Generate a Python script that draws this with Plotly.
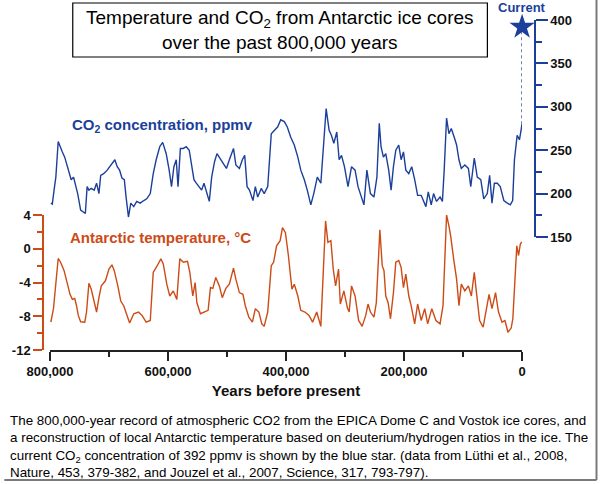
import plotly.graph_objects as go

# ages in thousands of years before present
temp_age_kyr = [798.5, 794, 786, 782, 776, 771, 766, 762, 758, 755, 752, 748, 741, 738, 734, 730, 725, 721,
                717, 713, 706, 700, 695, 691, 685, 680, 675, 670, 665, 658, 650, 644, 637, 630, 625, 619,
                612, 608, 602, 597, 591, 585, 580, 574, 567, 563, 558, 554, 551, 545, 538, 532, 528, 524,
                519, 513, 508, 502, 496, 489, 485, 479, 473, 469, 463, 457, 452, 446, 441, 437, 431, 425,
                421, 416, 410, 406, 401, 396, 390, 386, 380, 375, 368, 361, 355, 348, 341, 336, 333, 329,
                324, 320, 316, 311, 308, 302, 296, 293, 289, 283, 277, 271, 265, 261, 257, 251, 247, 241,
                237, 234, 231, 227, 223, 218, 214, 209, 205, 201, 197, 192, 188, 182, 177, 171, 165, 160,
                153, 146, 139, 134, 128, 124, 121, 116, 111, 107, 103, 97, 91, 86, 81, 77, 72, 66, 61, 56,
                51, 45, 40, 34, 29, 24, 18.5, 15.7, 13, 9, 6, 3, 0.5]
temp_c = [-8.7, -7.1, -1.15, -1.6, -2.6, -4.0, -5.4, -6.0, -5.9, -6.75, -7.9, -8.65, -8.7, -7.5, -4.1, -4.8,
          -6.2, -7.5, -5.8, -4.4, -3.8, -2.4, -1.9, -2.6, -4.4, -6.2, -6.75, -7.9, -8.8, -7.7, -7.5, -7.9,
          -8.7, -8.5, -2.8, -2.1, -1.2, -1.8, -4.2, -5.6, -5.0, -6.0, -1.2, -1.6, -1.5, -2.8, -5.6, -4.0,
          -6.4, -7.7, -7.5, -7.3, -4.6, -4.7, -3.4, -4.4, -5.8, -4.7, -4.2, -2.3, -3.6, -5.2, -5.4, -6.75,
          -8.1, -8.7, -7.1, -7.5, -8.9, -9.2, -7.5, -2.0, -1.6, 0.35, 0.95, 2.5, 1.9, -0.8, -4.8, -4.2,
          -5.6, -7.3, -7.5, -7.9, -8.7, -7.5, -9.2, 0.0, 3.3, 0.75, 0.95, -2.4, -4.4, -2.4, -6.55, -5.0,
          -7.0, -7.5, -4.4, -5.6, -8.5, -9.2, -7.9, -6.55, -7.5, -8.1, -6.4, 2.25, -2.0, -2.6, -5.6, -6.4,
          -8.3, -5.2, -1.6, -1.4, -2.2, -4.6, -3.0, -5.6, -6.75, -8.9, -6.55, -8.5, -7.1, -8.9, -7.1, -8.5,
          -8.9, -6.75, 4.0, 2.7, 1.5, -1.2, -3.6, -6.75, -4.2, -5.0, -4.4, -5.6, -2.8, -5.4, -8.5, -9.3,
          -7.1, -5.4, -7.1, -5.2, -7.5, -8.7, -8.5, -9.9, -9.4, -8.3, -4.8, 0.35, -0.8, 0.55, 0.8]

co2_age_kyr = [798.5, 796, 793, 790, 786, 783, 779, 775, 772, 768, 764, 760, 756, 753, 748, 744, 740, 737,
               734, 730, 725, 721, 717, 714, 709, 703, 698, 695, 690, 686, 682, 678, 674, 671, 667, 663,
               658, 653, 647, 641, 636, 630, 625, 620, 614, 609, 603, 598, 594, 590, 586, 583, 579, 574,
               569, 564, 560, 556, 552, 547, 543, 539, 535, 530, 526, 521, 517, 512, 507, 501, 496, 489,
               485, 479, 474, 470, 466, 462, 456, 452, 448, 442, 437, 431, 425, 420, 414, 409, 403, 398,
               392, 386, 380, 375, 369, 364, 358, 353, 347, 341, 336, 332, 327, 323, 319, 314, 310, 306,
               301, 295, 289, 283, 278, 272, 268, 263, 257, 251, 246, 242, 239, 235, 231, 226, 222, 218,
               214, 209, 205, 201, 197, 192, 187, 182, 177, 171, 167, 163, 159, 154, 150, 145, 139, 135,
               132, 128, 124, 120, 115, 111, 107, 103, 97, 91, 87, 81, 76, 70, 65, 59, 55, 51, 47, 42, 37,
               31, 25, 20, 16, 13, 8.4, 4.5, 1.7, 0.3]
co2_ppmv = [189, 188, 204, 219, 260, 254, 248, 242, 235, 225, 216, 219, 208, 200, 181, 179, 177, 208, 204,
            206, 204, 212, 200, 221, 223, 227, 232, 235, 239, 231, 227, 218, 216, 196, 173, 189, 185, 191,
            189, 192, 194, 200, 223, 239, 254, 259, 246, 227, 208, 231, 239, 208, 252, 252, 254, 250, 235,
            216, 212, 208, 204, 212, 203, 191, 219, 237, 246, 241, 235, 229, 239, 252, 233, 229, 239, 244,
            208, 204, 192, 208, 196, 206, 200, 208, 269, 273, 277, 285, 283, 277, 265, 256, 242, 227, 216,
            204, 187, 200, 219, 212, 254, 298, 273, 267, 258, 271, 239, 244, 231, 208, 231, 227, 208, 194,
            187, 227, 200, 196, 219, 281, 254, 242, 246, 227, 204, 231, 250, 256, 239, 248, 227, 223, 231,
            216, 198, 198, 192, 185, 202, 187, 200, 191, 196, 191, 227, 287, 269, 275, 265, 256, 239, 229,
            233, 229, 208, 241, 219, 216, 194, 200, 221, 189, 212, 212, 208, 192, 189, 187, 192, 239, 267,
            262, 273, 280]

current_co2 = 392
x_tickvals = [800000, 600000, 400000, 200000, 0]
x_ticktext = ["800,000", "600,000", "400,000", "200,000", "0"]
t_tickvals = [4, 0, -4, -8, -12]
t_ticktext = ["4", "0", "-4", "-8", "-12"]

temp_age = [a * 1000 for a in temp_age_kyr]
co2_age = [a * 1000 for a in co2_age_kyr]

BLUE = "#1b3f9a"
ORANGE = "#cc4b16"
FONT = "Liberation Sans, Arial, sans-serif"

fig = go.Figure()
fig.add_trace(go.Scatter(x=temp_age, y=temp_c, mode="lines", line=dict(color=ORANGE, width=1.4),
                         xaxis="x", yaxis="y"))
fig.add_trace(go.Scatter(x=co2_age, y=co2_ppmv, mode="lines", line=dict(color=BLUE, width=1.4),
                         xaxis="x", yaxis="y2"))
fig.add_trace(go.Scatter(x=[0, 0], y=[co2_ppmv[-1], current_co2], mode="lines",
                         line=dict(color=BLUE, width=1.5, dash="dot"), yaxis="y2", cliponaxis=False))
fig.add_trace(go.Scatter(x=[0], y=[current_co2], mode="markers", yaxis="y2", cliponaxis=False,
                         marker=dict(symbol="star", size=19, color=BLUE, line=dict(width=0))))

# plot area spans px x 39..535, y 20..350
W, H = 496, 330
def px(x):
    return (x - 39) / W
def py(y):
    return (350 - y) / H

fig.update_layout(
    width=601, height=484,
    margin=dict(l=39, r=66, t=20, b=134),
    paper_bgcolor="white", plot_bgcolor="rgba(0,0,0,0)",
    showlegend=False,
    font=dict(family=FONT, color="black"),
    xaxis=dict(domain=[px(46), px(522)], range=[800000, 0], anchor="y",
               showgrid=False, zeroline=False, showline=True, linecolor="#222", linewidth=1.5,
               ticks="outside", ticklen=9, tickwidth=1.5, tickcolor="#222",
               tickvals=x_tickvals, ticktext=x_ticktext,
               tickfont=dict(size=13, weight="bold", color="#111"),
               minor=dict(tickvals=[700000, 500000, 300000, 100000], ticks="outside",
                          ticklen=5, tickwidth=1.5, tickcolor="#222"),
               title=dict(text="Years before present", standoff=7,
                          font=dict(size=15, weight="bold", color="#111"))),
    yaxis=dict(domain=[0, py(215)], range=[-12, 4], anchor="free", position=0,
               showgrid=False, zeroline=False, showline=True, linecolor=ORANGE, linewidth=1.5,
               ticks="outside", ticklen=9, tickwidth=1.5, tickcolor=ORANGE,
               tickvals=t_tickvals, ticktext=t_ticktext,
               tickfont=dict(size=13, weight="bold", color="#111"),
               minor=dict(tickvals=[2, -2, -6, -10], ticks="outside",
                          ticklen=5, tickwidth=1.5, tickcolor=ORANGE)),
    yaxis2=dict(domain=[py(237), 1], range=[150, 400], anchor="free", position=1, side="right",
                showgrid=False, zeroline=False, showline=True, linecolor=BLUE, linewidth=1.5,
                ticks="outside", ticklen=12, tickwidth=1.5, tickcolor=BLUE,
                tickvals=[150, 200, 250, 300, 350, 400],
                tickfont=dict(size=13, weight="bold", color="#111"),
                minor=dict(tickvals=[175, 225, 275, 325, 375], ticks="outside",
                           ticklen=6, tickwidth=1.5, tickcolor=BLUE)),
)

fig.add_shape(type="rect", xref="paper", yref="paper", x0=px(69), x1=px(487), y0=py(57), y1=py(3),
              line=dict(color="black", width=1.2), layer="above")
fig.add_shape(type="line", xref="paper", yref="paper", x0=px(597), x1=px(597), y0=py(0), y1=py(480),
              line=dict(color="#7a7a7a", width=2))
fig.add_shape(type="line", xref="paper", yref="paper", x0=px(0), x1=px(597), y0=py(480), y1=py(480),
              line=dict(color="#7a7a7a", width=2))

fig.add_annotation(xref="paper", yref="paper", x=px(278), y=py(30), showarrow=False,
                   text="Temperature and CO<sub>2</sub> from Antarctic ice cores<br>over the past 800,000 years",
                   font=dict(size=19, color="black"), xanchor="center", yanchor="middle")
fig.add_annotation(xref="paper", yref="paper", x=px(522), y=py(8), showarrow=False, text="Current",
                   font=dict(size=13, weight="bold", color=BLUE), xanchor="center", yanchor="middle")
fig.add_annotation(xref="paper", yref="paper", x=px(159), y=py(125), showarrow=False,
                   text="CO<sub>2</sub> concentration, ppmv",
                   font=dict(size=15, weight="bold", color=BLUE), xanchor="center", yanchor="middle")
fig.add_annotation(xref="paper", yref="paper", x=px(157), y=py(237), showarrow=False,
                   text="Antarctic temperature, °C",
                   font=dict(size=15, weight="bold", color=ORANGE), xanchor="center", yanchor="middle")
fig.add_annotation(xref="paper", yref="paper", x=px(4), y=py(411), showarrow=False,
                   xanchor="left", yanchor="top", align="left",
                   font=dict(size=13.4, color="black"),
                   text="The 800,000-year record of atmospheric CO2 from the EPICA Dome C and Vostok ice cores, and<br>"
                        "a reconstruction of local Antarctic temperature based on deuterium/hydrogen ratios in the ice. The<br>"
                        "current CO<sub>2</sub> concentration of 392 ppmv is shown by the blue star. (data from Lüthi et al., 2008,<br>"
                        "Nature, 453, 379-382, and Jouzel et al., 2007, Science, 317, 793-797).")

fig.write_html("out.html", config={"displayModeBar": False},
               post_script="document.body.style.margin = '0';")
